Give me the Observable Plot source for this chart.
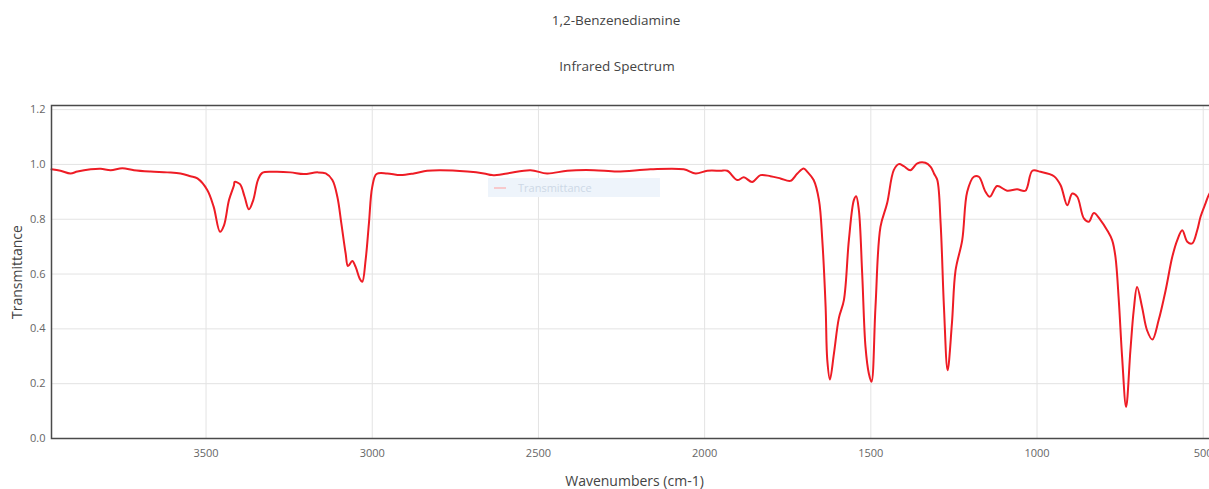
<!DOCTYPE html>
<html>
<head>
<meta charset="utf-8">
<script src="https://cdn.jsdelivr.net/npm/d3@7"></script>
<script src="https://cdn.jsdelivr.net/npm/@observablehq/plot@0.6"></script>
<style>
  html, body { margin: 0; padding: 0; background: #fff; overflow: hidden; }
  #page { position: relative; width: 1209px; height: 489px; overflow: hidden; font-family: "Open Sans", sans-serif; }
  .head { position: absolute; transform: translateX(-50%); white-space: nowrap; color: #444; font-size: 13.5px; }
  #chart { position: absolute; left: 0; top: 90px; }
  #chart svg { max-width: none !important; }
  #legend { position: absolute; left: 488px; top: 178px; width: 172px; height: 19px; background: #eef4fb; }
  #legend .sw { position: absolute; left: 6px; top: 9px; width: 12px; height: 2px; background: #f7c9cc; }
  #legend .tx { position: absolute; left: 30px; top: 2px; font-size: 11px; color: #cdd8e6; }
</style>
</head>
<body>
<div id="page">
  <div class="head" style="left:616px; top:11px;">1,2-Benzenediamine</div>
  <div class="head" style="left:617px; top:57px;">Infrared Spectrum</div>
  <div id="chart"></div>
  <div id="legend"><div class="sw"></div><div class="tx">Transmittance</div></div>
</div>
<script>
// IR spectrum of 1,2-benzenediamine: wavenumber (cm-1) and transmittance
const wavenumbers = [
  3965, 3938, 3908, 3887, 3847, 3817, 3787, 3752, 3717, 3667, 3617, 3577, 3547, 3526,
  3496, 3477, 3458, 3446, 3431, 3416, 3414, 3398, 3384, 3371, 3358, 3344, 3331, 3296,
  3246, 3206, 3165, 3140, 3120, 3105, 3093, 3080, 3073, 3060, 3050, 3038, 3030, 3020,
  3010, 3000, 2987, 2955, 2915, 2875, 2835, 2795, 2714, 2664, 2639, 2594, 2524, 2474,
  2413, 2333, 2263, 2163, 2063, 2027, 1992, 1952, 1932, 1902, 1882, 1857, 1832, 1802,
  1772, 1742, 1721, 1702, 1691, 1672, 1656, 1646, 1636, 1631, 1623, 1611, 1596, 1581,
  1566, 1551, 1544, 1536, 1526, 1516, 1506, 1498, 1486, 1471, 1451, 1431, 1416, 1401,
  1381, 1360, 1336, 1320, 1310, 1300, 1290, 1280, 1269, 1256, 1245, 1225, 1210, 1190,
  1175, 1155, 1142, 1120, 1090, 1060, 1035, 1014, 989, 949, 929, 909, 894, 879,
  859, 844, 829, 809, 789, 774, 764, 754, 744, 732, 719, 709, 699, 684,
  669, 653, 634, 613, 593, 578, 563, 548, 533, 518, 508, 493, 481, 457
];
const transmittance = [
  0.982, 0.977, 0.967, 0.974, 0.982, 0.984, 0.979, 0.986, 0.979, 0.974, 0.971, 0.967, 0.957, 0.949,
  0.906, 0.845, 0.754, 0.778, 0.870, 0.924, 0.936, 0.928, 0.882, 0.836, 0.870, 0.943, 0.969, 0.973,
  0.971, 0.965, 0.971, 0.967, 0.943, 0.882, 0.785, 0.675, 0.629, 0.648, 0.626, 0.584, 0.572, 0.651,
  0.785, 0.918, 0.965, 0.967, 0.961, 0.967, 0.977, 0.979, 0.974, 0.967, 0.961, 0.967, 0.979, 0.967,
  0.977, 0.979, 0.974, 0.982, 0.982, 0.967, 0.977, 0.977, 0.977, 0.943, 0.953, 0.936, 0.961, 0.957,
  0.949, 0.940, 0.967, 0.985, 0.973, 0.943, 0.870, 0.724, 0.480, 0.286, 0.215, 0.310, 0.440, 0.505,
  0.724, 0.870, 0.884, 0.833, 0.602, 0.334, 0.237, 0.207, 0.480, 0.772, 0.858, 0.979, 1.001, 0.994,
  0.979, 1.004, 1.006, 0.991, 0.967, 0.943, 0.785, 0.480, 0.249, 0.420, 0.614, 0.724, 0.900, 0.955,
  0.955, 0.900, 0.882, 0.921, 0.904, 0.909, 0.904, 0.977, 0.973, 0.957, 0.924, 0.851, 0.894, 0.882,
  0.803, 0.791, 0.823, 0.797, 0.760, 0.724, 0.663, 0.505, 0.298, 0.115, 0.322, 0.468, 0.553, 0.480,
  0.395, 0.361, 0.432, 0.541, 0.663, 0.724, 0.760, 0.718, 0.712, 0.760, 0.809, 0.858, 0.894, 0.930
];
const xTicks = [3500, 3000, 2500, 2000, 1500, 1000, 500];
const yTicks = [0, 0.2, 0.4, 0.6, 0.8, 1.0, 1.2];

const spectrum = wavenumbers.map((w, i) => ({w, t: transmittance[i]}));

const chart = Plot.plot({
  width: 1217,
  height: 399,
  marginLeft: 51,
  marginRight: 0,
  marginTop: 15,
  marginBottom: 51,
  style: {fontFamily: "Open Sans, sans-serif", fontSize: "11px", color: "#666", background: "#fff", maxWidth: "none"},
  x: {domain: [3965, 457]},
  y: {domain: [0, 1.215]},
  marks: [
    Plot.gridX(xTicks, {stroke: "#e3e3e3", strokeOpacity: 1}),
    Plot.gridY(yTicks.slice(1), {stroke: "#e3e3e3", strokeOpacity: 1}),
    Plot.line(spectrum, {x: "w", y: "t", stroke: "#ee1c25", strokeWidth: 2, curve: "catmull-rom"}),
    Plot.frame({stroke: "#4a4a4a", strokeWidth: 1.5}),
    Plot.axisX(xTicks, {tickSize: 0, tickPadding: 11, fontSize: 11, tickFormat: d => String(d), label: "Wavenumbers (cm-1)", labelAnchor: "center", labelArrow: "none", labelOffset: 47}),
    Plot.axisY(yTicks, {tickSize: 0, tickPadding: 6, fontSize: 11, tickFormat: d3.format(".1f"), label: "Transmittance", labelAnchor: "center", labelArrow: "none", labelOffset: 39})
  ]
});
chart.querySelectorAll("[aria-label='x-axis label'], [aria-label='y-axis label']").forEach(n => {
  n.style.fontSize = "14px";
  n.style.fill = "#444";
});
document.getElementById("chart").appendChild(chart);
</script>
</body>
</html>
